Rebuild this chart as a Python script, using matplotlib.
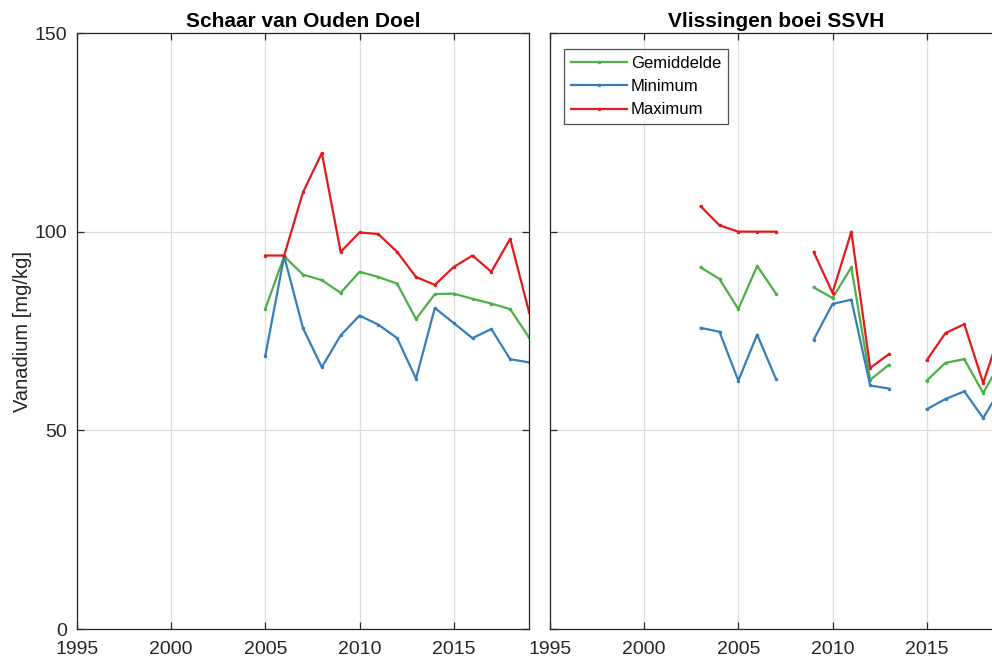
import numpy as np
import matplotlib
matplotlib.use("Agg")
import matplotlib.pyplot as plt

plt.rcParams['font.family'] = ['Liberation Sans', 'DejaVu Sans']

# Schaar van Ouden Doel
years_sod = [2005, 2006, 2007, 2008, 2009, 2010, 2011, 2012, 2013, 2014, 2015, 2016, 2017, 2018, 2019]
gem_sod = [80.6, 93.8, 89.2, 87.8, 84.6, 89.9, 88.6, 86.9, 78.0, 84.3, 84.4, 83.1, 81.9, 80.5, 73.4]
min_sod = [68.8, 93.8, 75.7, 65.9, 73.9, 78.9, 76.6, 73.2, 63.0, 80.8, 77.0, 73.2, 75.5, 67.9, 67.1]
max_sod = [94.0, 94.0, 109.9, 119.8, 94.9, 99.8, 99.4, 94.9, 88.6, 86.6, 91.1, 94.0, 89.9, 98.2, 79.8]

# Vlissingen boei SSVH (NaN = no measurements that year)
years_vl = [2003, 2004, 2005, 2006, 2007, 2008, 2009, 2010, 2011, 2012, 2013, 2014, 2015, 2016, 2017, 2018, 2019]
gem_vl = [91.0, 88.1, 80.5, 91.4, 84.4, np.nan, 86.0, 83.3, 91.0, 62.7, 66.5, np.nan, 62.5, 67.0, 67.9, 59.4, 67.8]
min_vl = [75.8, 74.8, 62.5, 74.1, 62.9, np.nan, 72.8, 81.8, 82.9, 61.3, 60.5, np.nan, 55.3, 57.9, 59.8, 53.1, 61.0]
max_vl = [106.4, 101.6, 100.0, 100.0, 100.0, np.nan, 94.9, 84.6, 100.0, 65.7, 69.2, np.nan, 67.6, 74.5, 76.7, 61.9, 76.1]

titles = ["Schaar van Ouden Doel", "Vlissingen boei SSVH"]
series_names = ["Gemiddelde", "Minimum", "Maximum"]
colors = ["#4DAF4A", "#377EB8", "#E41A1C"]
xticks = [1995, 2000, 2005, 2010, 2015]
yticks = [0, 50, 100, 150]

W, H = 992, 663
fig = plt.figure(figsize=(W / 100, H / 100), dpi=100)
bottom = (H - 629) / H
height = (629 - 33) / H
ax_w = (529 - 77) / W
ax1 = fig.add_axes([77 / W, bottom, ax_w, height])
ax2 = fig.add_axes([550 / W, bottom, ax_w, height])

datasets = [
    (years_sod, [gem_sod, min_sod, max_sod]),
    (years_vl, [gem_vl, min_vl, max_vl]),
]

for ax, title, (yrs, vals) in zip([ax1, ax2], titles, datasets):
    for name, v, c in zip(series_names, vals, colors):
        ax.plot(yrs, v, color=c, lw=1.6, marker='.', ms=3, label=name)
    ax.set_xlim(1995, 2019)
    ax.set_ylim(0, 150)
    ax.set_xticks(xticks)
    ax.set_yticks(yticks)
    ax.grid(True, color="#dcdcdc", lw=0.9)
    ax.set_axisbelow(True)
    ax.tick_params(direction='in', top=True, right=True, length=5, width=0.9,
                   labelsize=14, colors="#262626", labelcolor="#262626")
    ax.tick_params(axis='x', pad=9)
    ax.tick_params(axis='y', pad=7)
    for sp in ax.spines.values():
        sp.set_color("#262626")
        sp.set_linewidth(0.9)
    ax.set_title(title, fontsize=15, fontweight='bold', pad=4)

ax1.set_ylabel("Vanadium [mg/kg]", fontsize=14.5, color="#262626", labelpad=2)
ax2.tick_params(labelleft=False)

leg = ax2.legend(loc='upper left', bbox_to_anchor=(0.031, 0.973), borderaxespad=0,
                 fontsize=12, frameon=True, fancybox=False, edgecolor="#262626",
                 handlelength=3.35, borderpad=0.4, labelspacing=0.5, handletextpad=0.25)
leg.get_frame().set_linewidth(0.9)

fig.savefig("out.png", dpi=100)
